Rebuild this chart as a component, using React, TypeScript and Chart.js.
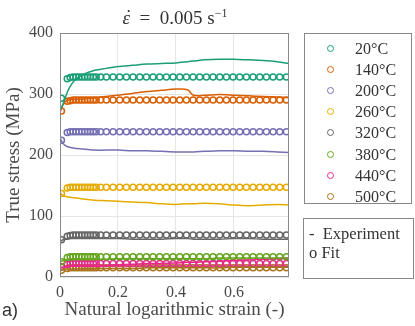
import React, { useEffect, useRef } from "react";
import { Chart, registerables } from "chart.js";

Chart.register(...registerables);

const temperatures = ["20°C", "140°C", "200°C", "260°C", "320°C", "380°C", "440°C", "500°C"];
const colors = ["#1b9e77", "#d95f02", "#7570b3", "#e6ab02", "#666666", "#66a61e", "#e7298a", "#a6761d"];

// Experiment curves (strain, stress)
const expStrain = [0, 0.01, 0.02, 0.03, 0.05, 0.08, 0.12, 0.16, 0.2, 0.25, 0.3, 0.35, 0.4, 0.44, 0.46, 0.5, 0.55, 0.6, 0.65, 0.7, 0.75, 0.79];
const exp20 = [272, 283, 296, 308, 322, 332, 339, 342, 345, 347, 349, 350, 351, 353, 354, 356, 357, 357, 356, 355, 353, 350];
const exp140 = [270, 282, 288, 290, 291, 292, 294, 296, 298, 301, 304, 306, 308, 307, 298, 298, 299, 298, 297, 296, 295, 294];
const exp200 = [228, 219, 215, 213, 211, 210, 208, 208, 208, 207, 207, 206, 205, 205, 205, 206, 207, 207, 206, 206, 205, 204];
const exp260 = [138, 134, 132, 131, 130, 128, 126, 125, 124, 123, 122, 120, 119, 120, 120, 121, 120, 118, 117, 118, 119, 118];
const exp320 = [58, 61, 62, 63, 63, 63, 63, 63, 63, 62, 62, 62, 63, 63, 62, 62, 62, 63, 63, 62, 62, 62];
const exp380 = [24, 27, 28, 29, 29, 29, 29, 29, 30, 30, 30, 30, 30, 30, 30, 30, 31, 31, 31, 31, 31, 31];
const exp440 = [14, 16, 17, 17, 18, 18, 19, 19, 20, 21, 22, 22, 23, 24, 24, 25, 26, 27, 28, 29, 30, 31];
const exp500 = [10, 12, 13, 13, 13, 14, 14, 14, 14, 14, 15, 15, 15, 15, 15, 15, 15, 16, 16, 16, 16, 16];
const expSeries = [exp20, exp140, exp200, exp260, exp320, exp380, exp440, exp500];

// Fit markers (strain, stress)
const fitStrain = [0.005, 0.025, 0.035, 0.045, 0.055, 0.065, 0.075, 0.085, 0.095, 0.105, 0.115, 0.125, 0.14,
  0.16, 0.183, 0.206, 0.229, 0.252, 0.275, 0.298, 0.321, 0.344, 0.367, 0.39, 0.413, 0.436, 0.459, 0.482,
  0.505, 0.528, 0.551, 0.574, 0.597, 0.62, 0.643, 0.666, 0.689, 0.712, 0.735, 0.758, 0.781];
const fit20 = [293, 325, 327, 328, 328, 328, 328, 328, 328, 328, 328, 328, 328, 328, 328, 328, 328, 328, 328, 328, 328, 328, 328, 328, 328, 328, 328, 328, 328, 328, 328, 328, 328, 328, 328, 328, 328, 328, 328, 328, 328];
const fit140 = [272, 288, 289, 290, 290, 290, 290, 290, 290, 290, 290, 290, 290, 290, 290, 290, 290, 290, 290, 290, 290, 290, 290, 290, 290, 290, 290, 290, 290, 290, 290, 290, 290, 290, 290, 290, 290, 290, 290, 290, 290];
const fit200 = [224, 237, 238, 238, 238, 238, 238, 238, 238, 238, 238, 238, 238, 238, 238, 238, 238, 238, 238, 238, 238, 238, 238, 238, 238, 238, 238, 238, 238, 238, 238, 238, 238, 238, 238, 238, 238, 238, 238, 238, 238];
const fit260 = [137, 146, 147, 147, 147, 147, 147, 147, 147, 147, 147, 147, 147, 147, 147, 147, 147, 147, 147, 147, 147, 147, 147, 147, 147, 147, 147, 147, 147, 147, 147, 147, 147, 147, 147, 147, 147, 147, 147, 147, 147];
const fit320 = [61, 67, 68, 69, 69, 69, 69, 69, 69, 69, 69, 69, 69, 69, 69, 69, 69, 69, 69, 69, 69, 69, 69, 69, 69, 69, 69, 69, 69, 69, 69, 69, 69, 69, 69, 69, 69, 69, 69, 69, 69];
const fit380 = [25, 32, 33, 33, 33, 33, 33, 33, 33, 33, 33, 33, 33, 33, 33, 33, 33, 33, 33, 33, 33, 33, 33, 33, 33, 33, 33, 33, 33, 33, 33, 33, 33, 33, 33, 33, 33, 33, 33, 33, 33];
const fit440 = [17, 21, 22, 22, 22, 22, 22, 22, 22, 22, 22, 22, 22, 22, 22, 22, 22, 22, 22, 22, 22, 22, 22, 22, 22, 22, 22, 22, 22, 22, 22, 22, 22, 22, 22, 22, 22, 22, 22, 22, 22];
const fit500 = [11, 14, 15, 15, 15, 15, 15, 15, 15, 15, 15, 15, 15, 15, 15, 15, 15, 15, 15, 15, 15, 15, 15, 15, 15, 15, 15, 15, 15, 15, 15, 15, 15, 15, 15, 15, 15, 15, 15, 15, 15];
const fitSeries = [fit20, fit140, fit200, fit260, fit320, fit380, fit440, fit500];

const xTicks = [0, 0.2, 0.4, 0.6];
const yTicks = [0, 100, 200, 300, 400];

const SERIF = "'Liberation Serif', 'Times New Roman', serif";

const framePlugin = {
  id: "frame",
  afterDraw(chart: any) {
    const { ctx, chartArea } = chart;
    ctx.save();
    ctx.strokeStyle = "#8a8a8a";
    ctx.lineWidth = 1;
    ctx.strokeRect(chartArea.left + 0.5, chartArea.top + 0.5, chartArea.right - chartArea.left - 1, chartArea.bottom - chartArea.top - 1);
    ctx.restore();
  },
};

export default function App() {
  const ref = useRef<HTMLCanvasElement | null>(null);

  useEffect(() => {
    if (!ref.current) return;
    const datasets: any[] = [];
    temperatures.forEach((t, k) => {
      datasets.push({
        label: t + " exp",
        data: expStrain.map((x, i) => ({ x, y: expSeries[k][i] })),
        showLine: true,
        borderColor: colors[k],
        backgroundColor: colors[k],
        borderWidth: 1.5,
        pointRadius: 0,
        tension: 0.3,
      });
    });
    temperatures.forEach((t, k) => {
      datasets.push({
        label: t,
        data: fitStrain.map((x, i) => ({ x, y: fitSeries[k][i] })),
        showLine: false,
        borderColor: colors[k],
        backgroundColor: "rgba(0,0,0,0)",
        pointRadius: 3,
        pointBorderWidth: 1.5,
        pointStyle: "circle",
      });
    });

    const chart = new Chart(ref.current, {
      type: "scatter",
      data: { datasets },
      plugins: [framePlugin],
      options: {
        animation: false,
        responsive: true,
        maintainAspectRatio: false,
        layout: { padding: { left: 0, right: 126, top: 33, bottom: 0 } },
        plugins: { legend: { display: false }, tooltip: { enabled: false }, title: { display: false } },
        scales: {
          x: {
            type: "linear",
            min: 0,
            max: 0.79,
            afterFit: (s: any) => { s.height = 49; },
            afterBuildTicks: (s: any) => { s.ticks = xTicks.map((v) => ({ value: v })); },
            grid: { color: "#e6e6e6", drawTicks: false },
            border: { display: false },
            ticks: { color: "#4a4a4a", padding: 6, font: { family: SERIF, size: 16 }, callback: (v: any) => String(v) },
            title: { display: true, text: "Natural logarithmic strain (-)", color: "#4a4a4a", padding: { top: 0, bottom: 5 }, font: { family: SERIF, size: 19 } },
          },
          y: {
            min: 0,
            max: 400,
            afterFit: (s: any) => { s.width = 60; },
            afterBuildTicks: (s: any) => { s.ticks = yTicks.map((v) => ({ value: v })); },
            grid: { color: "#e6e6e6", drawTicks: false },
            border: { display: false },
            ticks: { color: "#4a4a4a", padding: 7, font: { family: SERIF, size: 16 }, callback: (v: any) => String(v) },
            title: { display: true, text: "True stress (MPa)", color: "#4a4a4a", padding: { top: 3, bottom: 0 }, font: { family: SERIF, size: 19 } },
          },
        },
      },
    });
    return () => chart.destroy();
  }, []);

  const legendRow = (t: string, k: number) => (
    <div key={t} style={{ position: "absolute", left: 0, top: 4 + k * 21.1, height: 21, width: 106, display: "flex", alignItems: "center" }}>
      <span style={{ position: "absolute", left: 22, width: 5, height: 5, borderRadius: "50%", border: `1.5px solid ${colors[k]}` }} />
      <span style={{ position: "absolute", left: 50, fontFamily: SERIF, fontSize: 16, color: "#333", lineHeight: "21px" }}>{t}</span>
    </div>
  );

  return (
    <div style={{ position: "fixed", left: 0, top: 0, width: 415, height: 326, background: "#fff", overflow: "hidden" }}>
      <canvas ref={ref} />
      <div style={{ position: "absolute", left: 0, width: 350, top: 6, textAlign: "center", fontFamily: SERIF, fontSize: 19, color: "#333", lineHeight: "24px", whiteSpace: "pre" }}>
        <span style={{ position: "relative", display: "inline-block", fontStyle: "italic" }}>
          ε
          <span style={{ position: "absolute", left: 3, top: -1, fontStyle: "normal" }}>˙</span>
        </span>
        {"  =  0.005 s"}
        <sup style={{ fontSize: 12, verticalAlign: "7px", lineHeight: 0 }}>−1</sup>
      </div>
      <div style={{ position: "absolute", left: 304, top: 33, width: 106, height: 169, border: "1px solid #888" }}>
        {temperatures.map((t, k) => legendRow(t, k))}
      </div>
      <div style={{ position: "absolute", left: 303, top: 218, width: 109, height: 59, border: "1px solid #888", fontFamily: SERIF, fontSize: 16.5, color: "#333" }}>
        <div style={{ position: "absolute", left: 5, top: 5, lineHeight: "20px", whiteSpace: "pre" }}>{"-  Experiment"}</div>
        <div style={{ position: "absolute", left: 5, top: 24, lineHeight: "20px", whiteSpace: "pre" }}>{"o Fit"}</div>
      </div>
      <div style={{ position: "absolute", left: 2, top: 299, fontFamily: "'Liberation Sans', Arial, sans-serif", fontSize: 18, color: "#333", lineHeight: "22px" }}>a)</div>
    </div>
  );
}
